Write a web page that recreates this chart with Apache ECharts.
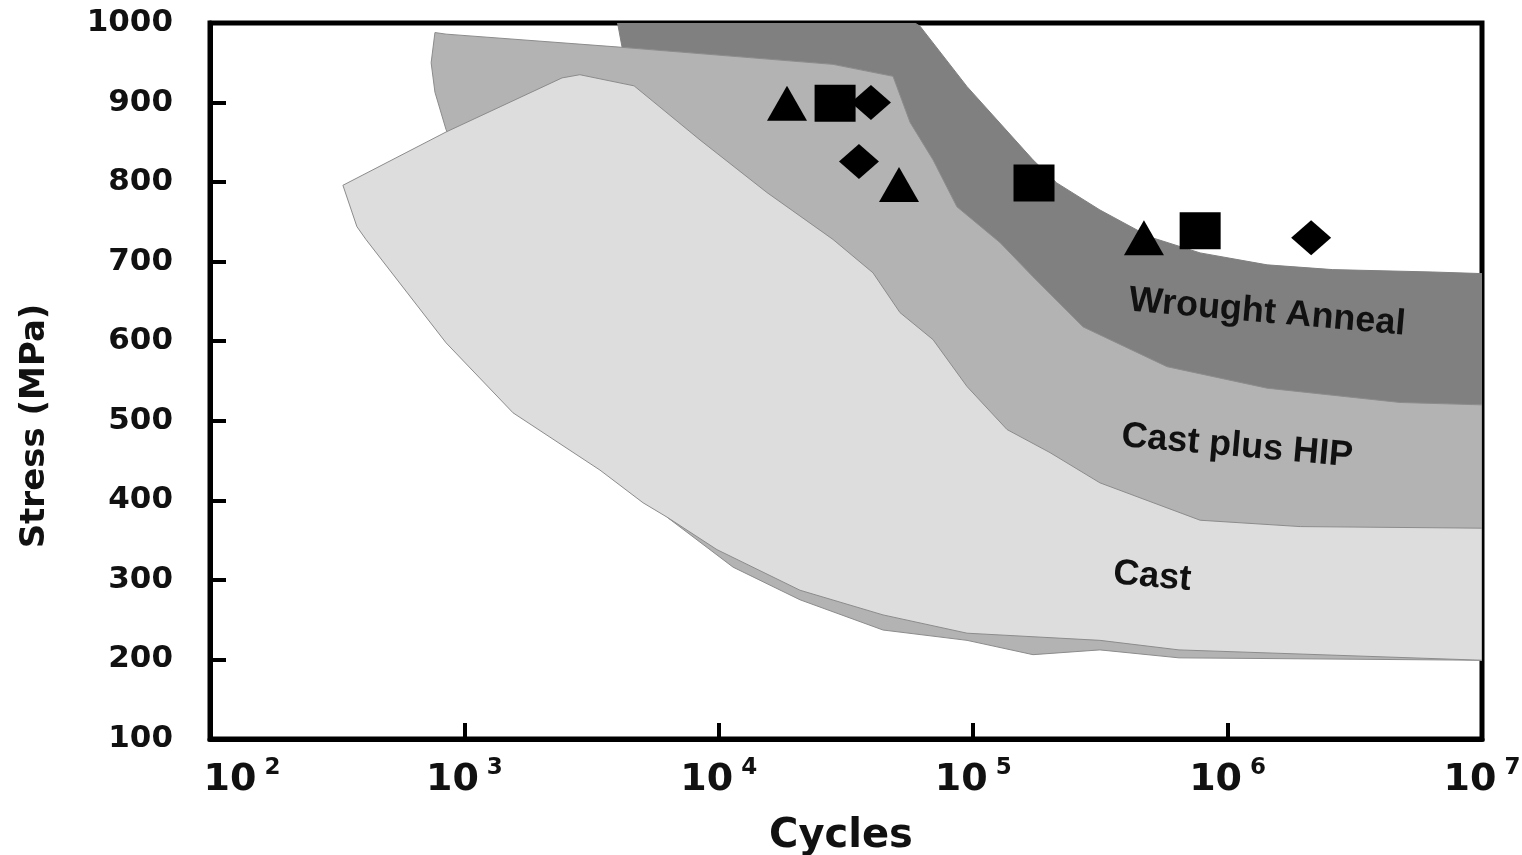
<!DOCTYPE html>
<html>
<head>
<meta charset="utf-8">
<script src="https://cdn.jsdelivr.net/npm/echarts@6/dist/echarts.min.js"></script>
<style>
html,body{margin:0;padding:0;background:#fff;}
#chart{width:1522px;height:855px;}
</style>
</head>
<body>
<div id="chart"></div>
<script>
// Region boundaries: [cycles, stress MPa]
var wroughtBoundary = [
  [4000,1000],[4170,969],[8435,904],[32800,841],[81100,702],[200400,552],[780000,463],[1e7,451],
  [1e7,685],[6.41e6,687],[2.59e6,690],[1.43e6,696],[780000,711],[495000,731],[314900,765],
  [213000,799],[171800,828],[94600,920],[61800,996],[59000,1000]
];
var hipBoundary = [
  [766,988],[740,950],[766,913],[847,866],[1380,715],[3412,489],[6250,379],[11380,316],
  [20850,275],[44200,237],[94600,224],[171800,206],[314900,212],[644000,202],[1e7,199],
  [1e7,520],[4.76e6,523],[1.43e6,541],[578000,568],[270400,618],[171800,681],[127400,724],
  [86300,769],[69500,828],[56500,875],[48400,933],[28100,948],[3945,970],[847,986]
];
var castBoundary = [
  [333,796],[847,863],[1227,887],[2420,931],[2843,935],[4645,921],[8435,853],[15450,787],
  [28100,728],[40360,686],[51540,636],[69500,602],[94600,543],[135800,489],[200400,460],
  [314900,422],[780000,375],[1.93e6,367],[1e7,365],[1e7,199],[644000,212],[314900,224],
  [94600,233],[44200,256],[20850,287],[9840,338],[6250,379],[5035,397],[3412,438],
  [1553,510],[847,598],[410,728],[378,744]
];
// Test data points
var triangles = [[18540,899],[51100,797],[469000,730]];
var squares = [[28650,899],[173400,799],[780000,739]];
var diamonds = [[39630,900],[35560,826],[2.13e6,730]];
// Region labels
var regionLabels = [
  {name:'Wrought Anneal', value:[1.43e6,636]},
  {name:'Cast plus HIP', value:[1.09e6,468]},
  {name:'Cast', value:[505000,304]}
];

var chart = echarts.init(document.getElementById('chart'));

function polygonSeries(name, pts, fill, stroke, z){
  return {
    type:'custom', name:name, z:z, clip:true, silent:true,
    data: pts,
    encode:{x:0,y:1},
    renderItem:function(params, api){
      if(params.dataIndex !== 0) return null;
      return {
        type:'polygon',
        shape:{points: pts.map(function(p){return api.coord(p);})},
        style:{fill:fill, stroke:stroke, lineWidth:1}
      };
    }
  };
}
function markerSeries(name, data, symbol, size){
  return {
    type:'scatter', name:name, data:data, symbol:symbol, symbolSize:size, z:10,
    itemStyle:{color:'#000', opacity:1}, silent:true
  };
}

var option = {
  animation:false,
  backgroundColor:'#fff',
  grid:{left:210, right:40, top:23, bottom:116, show:true, borderColor:'#000', borderWidth:5,
        backgroundColor:'transparent', containLabel:false, outerBoundsMode:'none'},
  xAxis:{
    type:'log', logBase:10, min:100, max:1e7,
    name:'Cycles', nameLocation:'middle', nameGap:78,
    nameTextStyle:{fontFamily:'DejaVu Sans', fontWeight:'bold', fontSize:40, color:'#111', padding:[0,10,0,0]},
    axisLine:{lineStyle:{color:'#000', width:5}},
    axisTick:{inside:true, length:16, lineStyle:{color:'#000', width:4}},
    minorTick:{show:false},
    splitLine:{show:false},
    axisLabel:{
      margin:18, showMinLabel:true, showMaxLabel:true,
      formatter:function(v){
        var e = Math.round(Math.log10(v));
        return (e === 2 ? '{f|10}' : '{b|10}') + '{s|' + e + '}';
      },
      rich:{
        b:{fontFamily:'DejaVu Sans', fontWeight:'bold', fontSize:38, color:'#111', verticalAlign:'bottom', lineHeight:42},
        f:{fontFamily:'DejaVu Sans', fontWeight:'bold', fontSize:38, color:'#111', verticalAlign:'bottom', lineHeight:42, padding:[0,0,0,64]},
        s:{fontFamily:'DejaVu Sans', fontWeight:'bold', fontSize:23, color:'#111', verticalAlign:'top', padding:[0,0,0,8], lineHeight:23}
      }
    }
  },
  yAxis:{
    type:'value', min:100, max:1000, interval:100,
    name:'Stress (MPa)', nameLocation:'middle', nameGap:158,
    nameTextStyle:{fontFamily:'DejaVu Sans', fontWeight:'bold', fontSize:34, color:'#111', padding:[0,90,0,0]},
    axisLine:{show:true, lineStyle:{color:'#000', width:5}},
    axisTick:{show:true, inside:true, length:16, lineStyle:{color:'#000', width:4}},
    splitLine:{show:false},
    axisLabel:{margin:37, fontFamily:'DejaVu Sans', fontWeight:'bold', fontSize:31, color:'#111',
      formatter:function(v){ return String(v); }}
  },
  series:[
    polygonSeries('Wrought Anneal', wroughtBoundary, '#808080', '#808080', 1),
    polygonSeries('Cast plus HIP', hipBoundary, '#b3b3b3', '#8c8c8c', 2),
    polygonSeries('Cast', castBoundary, '#dddddd', '#8c8c8c', 3),
    markerSeries('Triangle', triangles, 'triangle', [40,35]),
    markerSeries('Square', squares, 'rect', [41,37]),
    markerSeries('Diamond', diamonds, 'diamond', [40,35]),
    {
      type:'scatter', name:'labels', data:regionLabels, symbolSize:0, z:11, silent:true,
      itemStyle:{opacity:1},
      label:{show:true, position:'inside', formatter:'{b}', rotate:-5, opacity:1,
        fontFamily:'Liberation Sans', fontWeight:'bold', fontSize:36, color:'#111'}
    }
  ]
};
chart.setOption(option);
</script>
</body>
</html>
